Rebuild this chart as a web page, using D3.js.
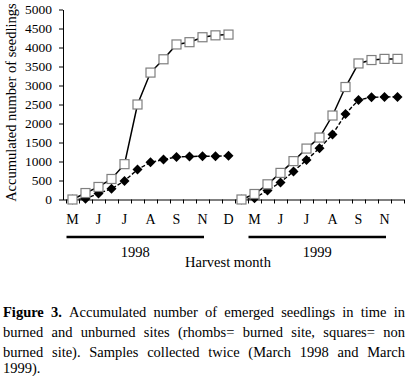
<!DOCTYPE html>
<html>
<head>
<meta charset="utf-8">
<script src="https://cdn.jsdelivr.net/npm/d3@7"></script>
<style>
  body { margin: 0; background: #fff; }
  svg text { font-family: "Liberation Serif", "Times New Roman", serif; fill: #000; }
</style>
</head>
<body>
<script>
// one category per harvest, 1998 then 1999
var unburned1998 = [0, 170, 330, 540, 930, 2500, 3340, 3690, 4080, 4140, 4270, 4320, 4340];
var burned1998 = [0, 20, 160, 280, 490, 790, 980, 1050, 1120, 1130, 1140, 1140, 1150];
var unburned1999 = [0, 145, 400, 700, 1010, 1340, 1630, 2210, 2960, 3580, 3670, 3700, 3700];
var burned1999 = [0, 30, 240, 450, 740, 1040, 1350, 1710, 2250, 2620, 2690, 2700, 2700];
var monthLabels = ['M', 'J', 'J', 'A', 'S', 'N', 'D', 'M', 'J', 'J', 'A', 'S', 'N'];
var yearLabels = ['1998', '1999'];
var yTicks = [0, 500, 1000, 1500, 2000, 2500, 3000, 3500, 4000, 4500, 5000];

var captionLines = [
    [{t: 'Figure', b: true}, {t: '3.', b: true}, 'Accumulated', 'number', 'of', 'emerged', 'seedlings', 'in', 'time', 'in'],
    'burned and unburned sites (rhombs= burned site, squares= non'.split(' '),
    'burned site). Samples collected twice (March 1998 and March'.split(' '),
    ['1999).']
];

var width = 409, height = 376;
var nCat = unburned1998.length + unburned1999.length;

var svg = d3.select('body').append('svg')
    .attr('width', width)
    .attr('height', height);

var x = d3.scaleLinear().domain([0, nCat]).range([66, 404]);
var y = d3.scaleLinear().domain([0, 5000]).range([199.5, 9.5]);

// y axis
var yAxis = d3.axisLeft(y).tickValues(yTicks).tickSize(4).tickSizeOuter(0)
    .tickPadding(7).tickFormat(d3.format('d'));
var gy = svg.append('g').attr('transform', 'translate(63,0)').call(yAxis)
    .attr('font-family', null).attr('font-size', null);
gy.selectAll('text').style('font-size', '13.5px');
gy.selectAll('line,path').attr('stroke', '#000');

// x axis, ticks between categories
var xAxis = d3.axisBottom(x).tickValues(d3.range(0, nCat + 1)).tickSize(4).tickSizeOuter(0).tickFormat('');
var gx = svg.append('g').attr('transform', 'translate(0,199.5)').call(xAxis);
gx.select('path').attr('d', 'M63,0.5H404').attr('stroke', '#000');
gx.selectAll('line').attr('stroke', '#000');

svg.append('g').selectAll('text')
    .data(monthLabels)
    .join('text')
    .attr('x', (d, i) => x(i * 2 + 0.5))
    .attr('y', 224)
    .attr('text-anchor', 'middle')
    .style('font-size', '14px')
    .text(d => d);

// year brackets, under M..N of each year
var yearSpans = [[0, 10], [14, 24]];
var bx1 = d => x(d[0] + 0.5) - 6;
var bx2 = d => x(d[1] + 0.5) + 1.5;
svg.append('g').selectAll('line')
    .data(yearSpans)
    .join('line')
    .attr('x1', bx1)
    .attr('x2', bx2)
    .attr('y1', 237).attr('y2', 237)
    .attr('stroke', '#000')
    .attr('stroke-width', 2.5);

svg.append('g').selectAll('text')
    .data(yearLabels)
    .join('text')
    .attr('x', (d, i) => (bx1(yearSpans[i]) + bx2(yearSpans[i])) / 2)
    .attr('y', 257)
    .attr('text-anchor', 'middle')
    .style('font-size', '14.5px')
    .text(d => d);

svg.append('text')
    .attr('x', 228).attr('y', 267)
    .attr('text-anchor', 'middle')
    .style('font-size', '14.5px')
    .text('Harvest month');

svg.append('text')
    .attr('transform', 'translate(16,' + y(2550) + ') rotate(-90)')
    .attr('text-anchor', 'middle')
    .style('font-size', '14.5px')
    .text('Accumulated number of seedlings');

// series
var series = [
    {vals: burned1998, off: 0, kind: 'diamond'},
    {vals: burned1999, off: unburned1998.length, kind: 'diamond'},
    {vals: unburned1998, off: 0, kind: 'square'},
    {vals: unburned1999, off: unburned1998.length, kind: 'square'}
];

var line = d3.line().x(d => x(d.i + 0.5)).y(d => y(d.v));

series.forEach(function(s) {
    var pts = s.vals.map((v, k) => ({i: k + s.off, v: v}));
    svg.append('path')
        .attr('d', line(pts))
        .attr('fill', 'none')
        .attr('stroke', '#000')
        .attr('stroke-width', s.kind === 'square' ? 1.5 : 1.4)
        .attr('stroke-dasharray', s.kind === 'square' ? null : '4,2');
    if (s.kind === 'square') {
        svg.append('g').selectAll('rect')
            .data(pts)
            .join('rect')
            .attr('x', d => x(d.i + 0.5) - 4.5)
            .attr('y', d => y(d.v) - 4.5)
            .attr('width', 9).attr('height', 9)
            .attr('fill', '#fff')
            .attr('stroke', '#7f7f7f')
            .attr('stroke-width', 1.2);
    } else {
        svg.append('g').selectAll('path')
            .data(pts)
            .join('path')
            .attr('transform', d => 'translate(' + x(d.i + 0.5) + ',' + y(d.v) + ')')
            .attr('d', 'M0,-5L5,0L0,5L-5,0Z')
            .attr('fill', '#000');
    }
});

// caption, justified
var capY = [317, 337, 356.5, 373];
var capLeft = 3, capRight = 405;
captionLines.forEach(function(words, li) {
    var g = svg.append('g');
    var items = words.map(function(w) {
        var o = typeof w === 'string' ? {t: w, b: false} : w;
        var t = g.append('text')
            .attr('y', capY[li])
            .style('font-size', '14.5px')
            .style('font-weight', o.b ? 'bold' : 'normal')
            .text(o.t);
        return {el: t, w: t.node().getComputedTextLength()};
    });
    var total = d3.sum(items, d => d.w);
    var last = li === captionLines.length - 1;
    var gap = (last || items.length < 2) ? 3.6 : (capRight - capLeft - total) / (items.length - 1);
    var cx = capLeft;
    items.forEach(function(d) {
        d.el.attr('x', cx);
        cx += d.w + gap;
    });
});
</script>
</body>
</html>
